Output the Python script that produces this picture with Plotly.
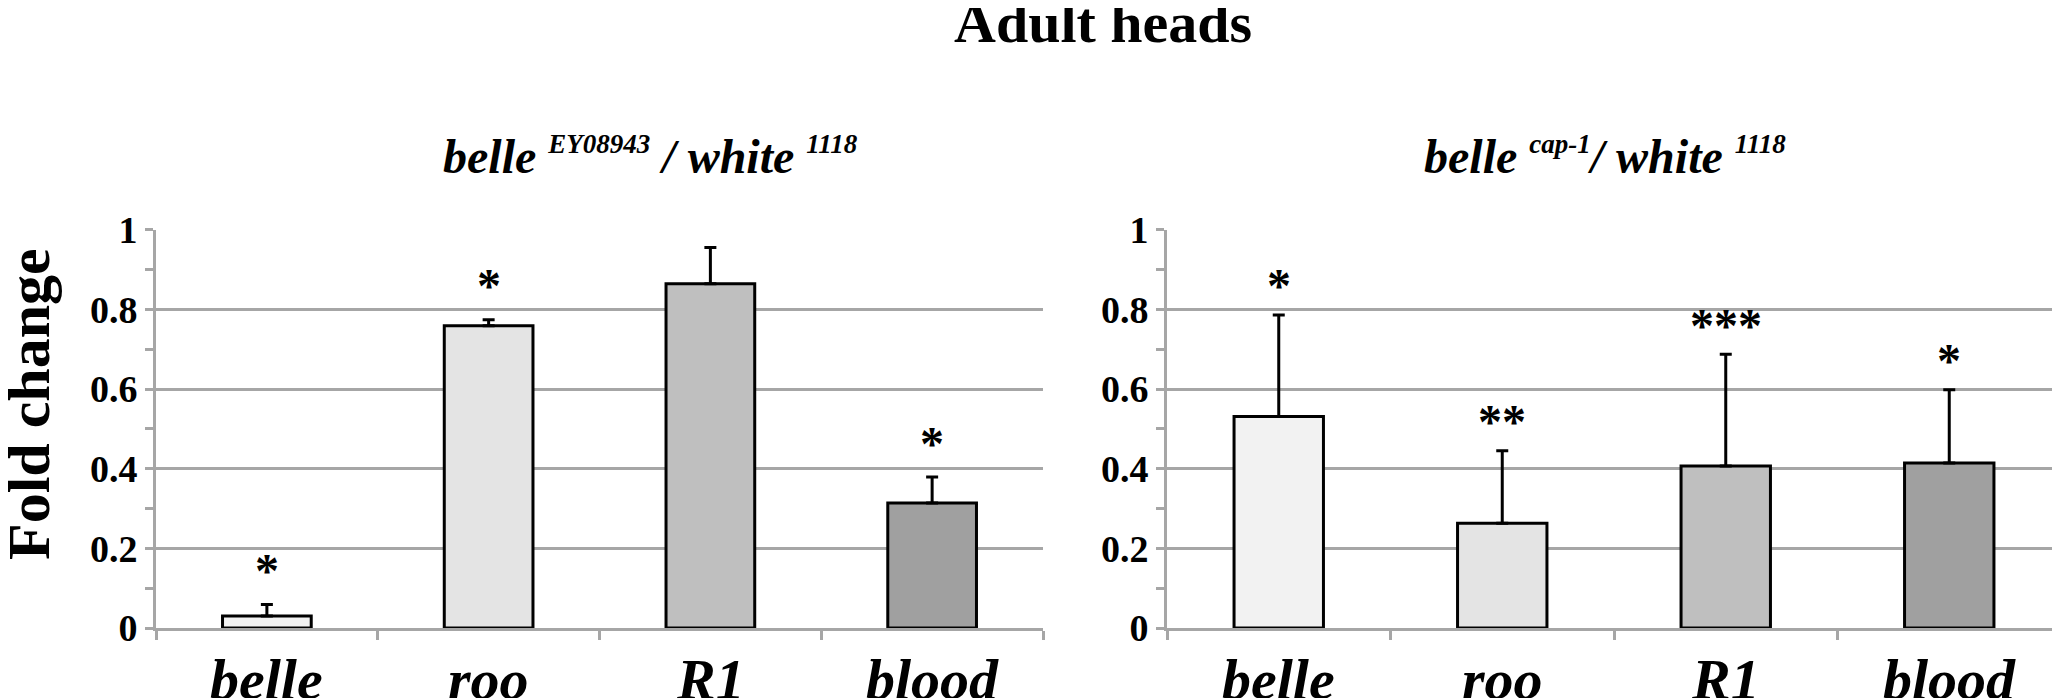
import plotly.graph_objects as go

W, H = 2060, 698

genes = ["belle", "roo", "R1", "blood"]
bar_colors = ["#f2f2f2", "#e4e4e4", "#bfbfbf", "#a0a0a0"]

ey_values = [0.030, 0.759, 0.864, 0.314]
ey_errors = [0.029, 0.015, 0.091, 0.065]
ey_stars = ["*", "*", "", "*"]

cap_values = [0.531, 0.263, 0.407, 0.414]
cap_errors = [0.255, 0.182, 0.280, 0.184]
cap_stars = ["*", "**", "***", "*"]

y_ticks = [0, 0.2, 0.4, 0.6, 0.8, 1]

SERIF = "Liberation Serif"
GRID = "#a6a6a6"


def px_x(x):
    return x / W


def px_y(y):
    return 1 - y / H


fig = go.Figure()

panels = [
    ("x", "y", ey_values, ey_errors, ey_stars, 34),
    ("x2", "y2", cap_values, cap_errors, cap_stars, 29),
]

for xa, ya, vals, errs, stars, shift in panels:
    fig.add_trace(
        go.Bar(
            x=genes,
            y=vals,
            width=0.4,
            marker=dict(color=bar_colors, line=dict(color="black", width=3)),
            error_y=dict(
                type="data",
                array=errs,
                symmetric=False,
                arrayminus=[0] * len(vals),
                color="black",
                thickness=3,
                width=6,
            ),
            xaxis=xa,
            yaxis=ya,
            showlegend=False,
        )
    )
    for g, v, e, s in zip(genes, vals, errs, stars):
        if s:
            fig.add_annotation(
                x=g, y=v + e, xref=xa, yref=ya,
                text=s, showarrow=False,
                xanchor="center", yanchor="middle", yshift=shift,
                font=dict(family=SERIF, size=48, color="black", weight="bold"),
            )
        # category label under the axis
        fig.add_annotation(
            x=g, y=px_y(671), xref=xa, yref="paper",
            text=g, showarrow=False,
            xanchor="center", yanchor="middle",
            font=dict(family=SERIF, size=58, color="black", weight="bold", style="italic"),
        )

axis_x = dict(
    type="category",
    showline=True, linecolor=GRID, linewidth=3,
    ticks="outside", tickson="boundaries", ticklen=9, tickwidth=3, tickcolor=GRID,
    showticklabels=False,
    showgrid=False,
    automargin=False,
)
axis_y = dict(
    range=[0, 1],
    tickvals=y_ticks,
    showline=True, linecolor=GRID, linewidth=3,
    showgrid=True, gridcolor=GRID, gridwidth=3,
    zeroline=False,
    ticks="outside", ticklen=8, tickwidth=3, tickcolor=GRID,
    minor=dict(dtick=0.1, ticks="outside", ticklen=8, tickwidth=3, tickcolor=GRID, showgrid=False),
    tickfont=dict(family=SERIF, size=38, color="black", weight="bold"),
    automargin=False,
)

y_dom = [px_y(620), px_y(221.7)]

fig.update_layout(
    width=W, height=H,
    margin=dict(l=0, r=0, t=0, b=0),
    paper_bgcolor="white", plot_bgcolor="white",
    xaxis=dict(axis_x, domain=[px_x(148), px_x(1035)], anchor="y"),
    yaxis=dict(axis_y, domain=y_dom, anchor="x"),
    xaxis2=dict(axis_x, domain=[px_x(1159), px_x(2053)], anchor="y2"),
    yaxis2=dict(axis_y, domain=y_dom, anchor="x2"),
)

fig.add_annotation(
    x=px_x(1095), y=px_y(15), xref="paper", yref="paper",
    text="Adult heads", showarrow=False, xanchor="center", yanchor="middle",
    font=dict(family=SERIF, size=58, color="black", weight="bold"),
)

sub = '<span style="font-size:27px">{}</span>'
fig.add_annotation(
    x=px_x(642), y=px_y(148), xref="paper", yref="paper",
    text="belle <sup>" + sub.format("EY08943") + "</sup> / white <sup>" + sub.format("1118") + "</sup>",
    showarrow=False, xanchor="center", yanchor="middle",
    font=dict(family=SERIF, size=48, color="black", weight="bold", style="italic"),
)
fig.add_annotation(
    x=px_x(1597), y=px_y(148), xref="paper", yref="paper",
    text="belle <sup>" + sub.format("cap-1") + "</sup>/ white <sup>" + sub.format("1118") + "</sup>",
    showarrow=False, xanchor="center", yanchor="middle",
    font=dict(family=SERIF, size=48, color="black", weight="bold", style="italic"),
)

fig.add_annotation(
    x=px_x(21), y=px_y(396), xref="paper", yref="paper",
    text="Fold change", showarrow=False, textangle=-90,
    xanchor="center", yanchor="middle",
    font=dict(family=SERIF, size=60, color="black", weight="bold"),
)

fig.write_html("out.html")
